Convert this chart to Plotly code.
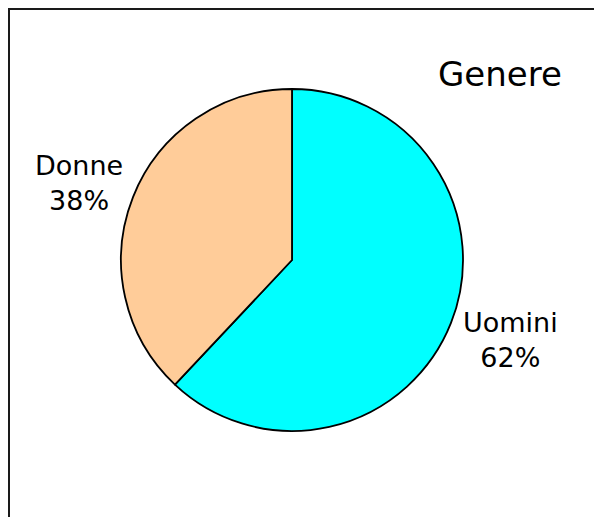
import plotly.graph_objects as go

labels = ["Uomini", "Donne"]
values = [62, 38]
colors = ["#00FFFF", "#FFCC99"]
title_text = "Genere"

W, H = 602, 517
# page body has an 8px margin; positions below are in figure pixels
cx, cy, r = 284, 252, 171
label_pos = {"Uomini": (502, 332), "Donne": (71, 175)}

fig = go.Figure(go.Pie(
    labels=labels,
    values=values,
    sort=False,
    direction="clockwise",
    rotation=0,
    marker=dict(colors=colors, line=dict(color="#000000", width=1.8)),
    textinfo="none",
    showlegend=False,
    hoverinfo="label+percent",
    domain=dict(x=[(cx - r) / W, (cx + r) / W],
                y=[(H - cy - r) / H, (H - cy + r) / H]),
))

total = sum(values)
for lab, val in zip(labels, values):
    px, py = label_pos[lab]
    fig.add_annotation(text=f"{lab}<br>{round(val / total * 100)}%",
                       xref="paper", yref="paper",
                       x=px / W, y=1 - py / H, xanchor="center", yanchor="middle",
                       align="center", showarrow=False,
                       font=dict(family="DejaVu Sans", size=27, color="#000000"))

fig.add_shape(type="rect", xref="paper", yref="paper",
              x0=0, x1=1.2, y0=-0.2, y1=1,
              line=dict(color="#1a1a1a", width=4), fillcolor="rgba(0,0,0,0)")

fig.add_annotation(text=title_text, xref="paper", yref="paper",
                   x=491.5 / W, y=1 - 66 / H, xanchor="center", yanchor="middle",
                   showarrow=False,
                   font=dict(family="DejaVu Sans", size=34, color="#000000"))

fig.update_layout(width=W, height=H, margin=dict(l=0, r=0, t=0, b=0),
                  paper_bgcolor="white", plot_bgcolor="white")
fig.write_html("out.html")
